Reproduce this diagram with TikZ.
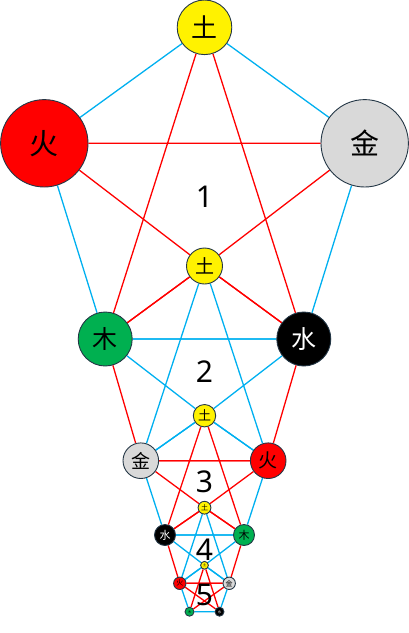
\documentclass[tikz,border=0pt]{standalone}
\usepackage{fontspec}
\setmainfont{Noto Sans}
\newfontfamily\cjk{Noto Sans CJK SC}
\usetikzlibrary{backgrounds}
\definecolor{sky}{HTML}{00B0F0}
\definecolor{rim}{HTML}{243746}
\definecolor{silver}{HTML}{D9D9D9}
\definecolor{leaf}{HTML}{00B050}
\tikzset{
 elem/.style={circle,draw=rim,line width=0.9pt,inner sep=0pt},
 sz/.style 2 args={minimum size=#1pt,font=\cjk\fontsize{#2}{#2}\selectfont},
 earth/.style={elem,fill=yellow},
 fire/.style={elem,fill=red},
 metal/.style={elem,fill=silver},
 wood/.style={elem,fill=leaf},
 water/.style={elem,fill=black,text=white},
 sheng/.style={sky,line width=1.3pt},
 ke/.style={red,line width=1.3pt},
 num/.style={inner sep=0pt,font=\fontsize{30}{30}\selectfont}
}
\begin{document}
\begin{tikzpicture}[x=1pt,y=-1pt]
 \useasboundingbox (0,0) rectangle (409,633);
 % centre line of earth
 \node[earth,sz={54.6}{26}] (e0) at (204.5,27.3) {土};
 \node[earth,sz={36}{19}] (e1) at (204.5,266) {土};
 \node[earth,sz={22.4}{13}] (e2) at (204.5,415.7) {土};
 \node[earth,sz={12.8}{7}] (e3) at (204.5,507.7) {土};
 \node[earth,sz={7.8}{3.5}] (e4) at (204.5,565.3) {土};
 % left and right pairs
 \node[fire,sz={87.4}{29}] (l1) at (44.3,143.3) {火};
 \node[metal,sz={87.4}{29}] (r1) at (364.7,143.3) {金};
 \node[wood,sz={54}{25}] (l2) at (105.2,339) {木};
 \node[water,sz={54}{25}] (r2) at (303.8,339) {水};
 \node[metal,sz={35.6}{19}] (l3) at (140.8,460.7) {金};
 \node[fire,sz={35.6}{19}] (r3) at (268.2,460.7) {火};
 \node[water,sz={21}{11}] (l4) at (165,535) {水};
 \node[wood,sz={21}{11}] (r4) at (244,535) {木};
 \node[fire,sz={12.4}{7}] (l5) at (179.8,583.3) {火};
 \node[metal,sz={12.4}{7}] (r5) at (229.2,583.3) {金};
 \node[wood,sz={9}{3.5}] (l6) at (189.5,611.7) {木};
 \node[water,sz={9}{3.5}] (r6) at (219.5,611.7) {水};
 % level numbers
 \node[num] (n1) at (204.5,197) {1};
 \node[num] (n2) at (204.5,372) {2};
 \node[num] (n3) at (204.5,482) {3};
 \node[num] (n4) at (204.5,550) {4};
 \node[num] (n5) at (204.5,595) {5};
 \begin{scope}[on background layer]
  \foreach \k/\s/\d in {1/sheng/ke,2/ke/sheng,3/sheng/ke,4/ke/sheng,5/sheng/ke}{
   \pgfmathtruncatemacro\p{\k-1}
   \pgfmathtruncatemacro\n{\k+1}
   \draw[\s] (e\p) -- (l\k) (e\p) -- (r\k) (l\k) -- (l\n) (r\k) -- (r\n) (l\n) -- (r\n);
   \draw[\d] (e\p) -- (l\n) (e\p) -- (r\n) (l\k) -- (r\k);
   \ifnum\k<5
    \draw[\d] (l\k) -- (e\k) -- (r\n) (r\k) -- (e\k) -- (l\n);
   \else
    \draw[\d] (l\k) -- (r\n) (r\k) -- (l\n);
   \fi
  }
 \end{scope}
\end{tikzpicture}
\end{document}
